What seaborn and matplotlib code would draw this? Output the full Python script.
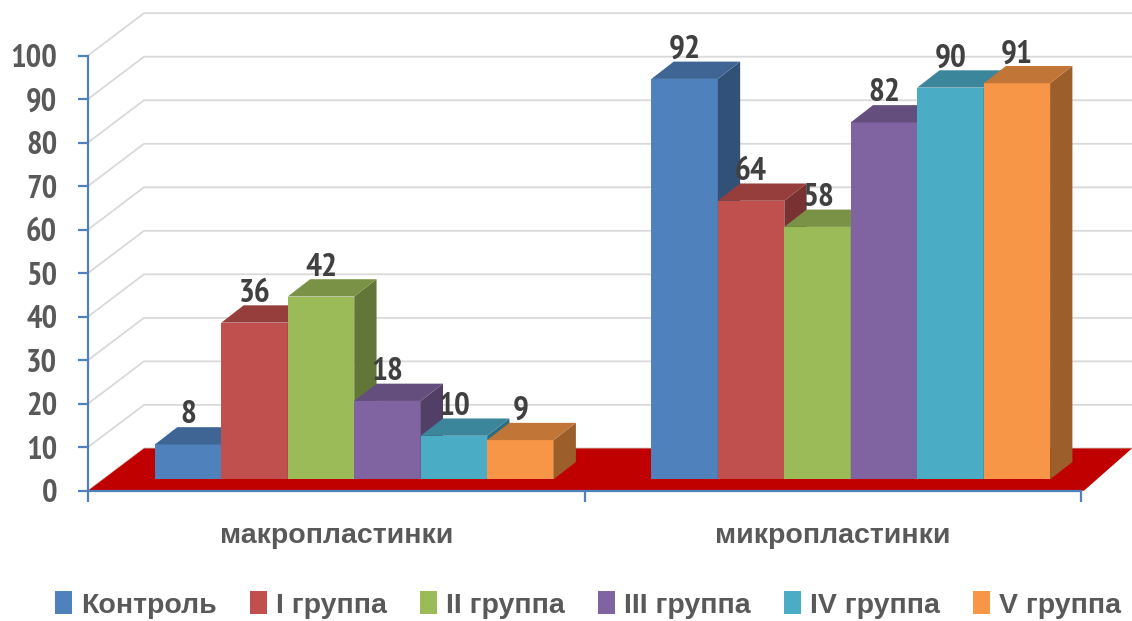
import matplotlib
matplotlib.use("Agg")
import matplotlib.pyplot as plt
import matplotlib.colors as mcolors
from matplotlib.patches import Polygon
from matplotlib.transforms import Affine2D
import pandas as pd
import seaborn as sns

# Chart data
groups = ["макропластинки", "микропластинки"]
series = ["Контроль", "I группа", "II группа", "III группа", "IV группа", "V группа"]
macro_values = [8, 36, 42, 18, 10, 9]
micro_values = [92, 64, 58, 82, 90, 91]
colors = ["#4F81BD", "#C0504D", "#9BBB59", "#8064A2", "#4BACC6", "#F79646"]
y_ticks = [0, 10, 20, 30, 40, 50, 60, 70, 80, 90, 100]

# Narrow face for the numbers, wider one for the words
FONT_NUM = ["PT Sans Narrow", "Roboto Condensed", "Liberation Sans", "DejaVu Sans"]
FONT_TXT = ["Liberation Sans", "DejaVu Sans"]
W, H = 1132, 621

sns.set_theme(style="white")
plt.rcParams["font.family"] = FONT_NUM
plt.rcParams["font.weight"] = "bold"

df = pd.DataFrame({
    "group": [groups[0]] * len(series) + [groups[1]] * len(series),
    "series": series * 2,
    "value": macro_values + micro_values,
})

fig = plt.figure(figsize=(W / 100, H / 100), dpi=100)
# Axes box in pixels: x 88..1081, y 55.5..490.7
ax = fig.add_axes([88 / W, 1 - 490.7 / H, 993 / W, 435.2 / H])

sns.barplot(data=df, x="group", y="value", hue="series", hue_order=series,
            palette=colors, saturation=1, width=0.803, linewidth=0, ax=ax)

px_x = 993 / 2  # pixels per x unit
px_y = 435.2 / 100  # pixels per y unit


def shade(color, k):
    r, g, b = mcolors.to_rgb(color)
    return (r * k, g * k, b * k)


# Back wall lines and red floor, 3D look is faked in data units
wall_dx = 56 / px_x
wall_dy = 42.3 / px_y
right_edge = (W - 88) / px_x - 0.5
for v in y_ticks:
    ax.plot([-0.5, -0.5 + wall_dx, right_edge], [v, v + wall_dy, v + wall_dy],
            color="#D9D9D9", lw=1.3, clip_on=False, zorder=1)
ax.add_patch(Polygon([(-0.5, 0), (1.5 + 3 / px_x, 0), (right_edge, wall_dy), (-0.5 + wall_dx, wall_dy)],
                     color="#C00000", lw=0, clip_on=False, zorder=2))

# Bars stand a little behind the axis plane
shift = Affine2D().translate(18, 11.4)
bar_trans = ax.transData + shift
depth_x = 22.3 / px_x
depth_y = 17.3 / px_y

z = 3
for container, color in zip(ax.containers, colors):
    for bar in container:
        x0 = bar.get_x()
        x1 = x0 + bar.get_width()
        top = bar.get_height()
        bar.set_transform(bar_trans)
        bar.set_clip_on(False)
        bar.set_zorder(z)
        ax.add_patch(Polygon([(x1, 0), (x1 + depth_x, depth_y), (x1 + depth_x, top + depth_y), (x1, top)],
                             facecolor=shade(color, 0.63), lw=0, transform=bar_trans, clip_on=False, zorder=z))
        ax.add_patch(Polygon([(x0, top), (x1, top), (x1 + depth_x, top + depth_y), (x0 + depth_x, top + depth_y)],
                             facecolor=shade(color, 0.78), lw=0, transform=bar_trans, clip_on=False, zorder=z))
        z += 1

# Value labels
for container in ax.containers:
    for bar in container:
        ax.annotate(f"{bar.get_height():.0f}", (bar.get_x() + bar.get_width() / 2, bar.get_height()),
                    xytext=(18 * 0.72, (11.4 + 14) * 0.72), textcoords="offset points",
                    ha="center", va="bottom", fontsize=24, fontweight="bold", color="#404040",
                    annotation_clip=False, zorder=50)

ax.set_xlim(-0.5, 1.5)
ax.set_ylim(0, 100)
ax.set_yticks(y_ticks)
ax.set_xlabel("")
ax.set_ylabel("")
sns.despine(ax=ax, top=True, right=True)
ax.patch.set_alpha(0)
for side in ["left", "bottom"]:
    ax.spines[side].set_color("#4F81BD")
    ax.spines[side].set_linewidth(1.6)
    ax.spines[side].set_zorder(2.5)

ax.tick_params(axis="y", left=True, length=7.2, width=1.6, color="#4F81BD", pad=15,
               labelsize=23.5, labelcolor="#595959")
ax.set_xticks([-0.5, 0.5, 1.5], minor=True)
ax.tick_params(axis="x", which="minor", bottom=True, length=8, width=1.6, color="#4F81BD")
ax.tick_params(axis="x", which="major", bottom=False, pad=17, labelsize=20.5, labelcolor="#595959")
for label in ax.get_xticklabels():
    label.set_family(FONT_TXT)
    label.set_fontweight("bold")

handles, labels = ax.get_legend_handles_labels()
ax.legend(handles, labels, loc="center", bbox_to_anchor=(588 / W, 1 - 605 / H),
          bbox_transform=fig.transFigure, ncol=6, frameon=False,
          handlelength=0.6, handleheight=0.85, handletextpad=0.32, columnspacing=1.16,
          labelcolor="#595959", prop={"family": FONT_TXT, "weight": "bold", "size": 20.5})

fig.savefig("out.png", dpi=100)
